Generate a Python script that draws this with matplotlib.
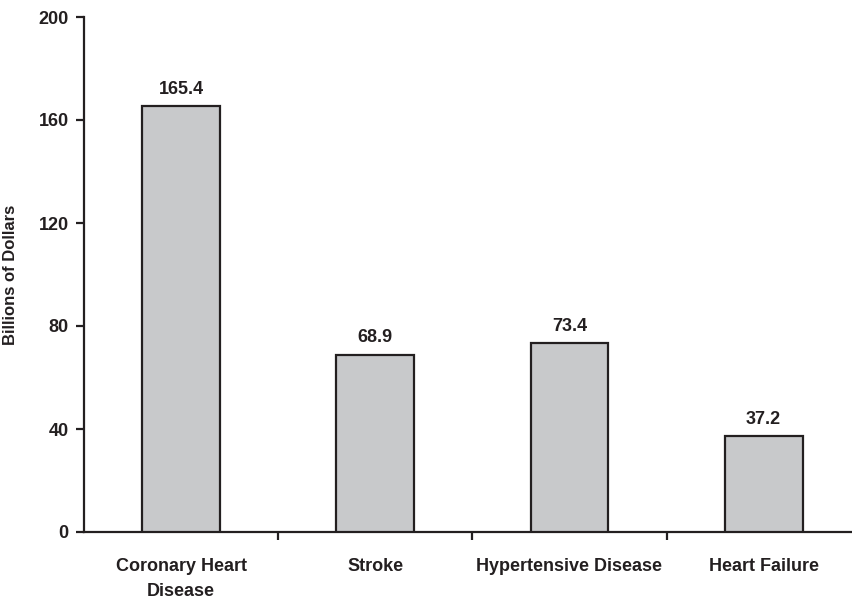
import matplotlib.pyplot as plt
from matplotlib import font_manager

# Cost data, billions of dollars
categories = ["Coronary Heart\nDisease", "Stroke", "Hypertensive Disease", "Heart Failure"]
costs = [165.4, 68.9, 73.4, 37.2]
y_ticks = [0, 40, 80, 120, 160, 200]

names = {f.name for f in font_manager.fontManager.ttflist}
family = "Liberation Sans Narrow" if "Liberation Sans Narrow" in names else "Liberation Sans"
plt.rcParams["font.family"] = [family, "DejaVu Sans"]
plt.rcParams["font.weight"] = "bold"

ink = "#231f20"

fig = plt.figure(figsize=(8.53, 6.01), dpi=100)
ax = fig.add_axes([84 / 853, 1 - 532 / 601, 1 - 84 / 853, (532 - 17) / 601])

x = list(range(len(categories)))
ax.bar(x, costs, width=0.40, color="#c8c9cb", edgecolor=ink, linewidth=1.6, zorder=3)

for xi, v in zip(x, costs):
    ax.text(xi, v + 3.2, f"{v}", ha="center", va="bottom", fontsize=13, fontweight="bold", color=ink)

ax.set_xlim(-0.5, 3.46)
ax.set_ylim(0, 200)
ax.set_yticks(y_ticks)
ax.set_yticklabels([str(t) for t in y_ticks], fontsize=13, fontweight="bold", color=ink)

# category names centred under bars, ticks sit on the boundaries
ax.set_xticks(x)
ax.set_xticklabels(categories, fontsize=13, fontweight="bold", color=ink, linespacing=1.55)
ax.set_xticks([0.5, 1.5, 2.5], minor=True)
ax.tick_params(axis="x", which="major", length=0, pad=19)
ax.tick_params(axis="x", which="minor", length=6, width=1.6, color=ink, direction="out")
ax.tick_params(axis="y", length=6, width=1.6, color=ink, direction="out", pad=5)

ax.set_ylabel("Billions of Dollars", fontsize=12, fontweight="bold", color=ink)
ax.yaxis.set_label_coords((18 - 84) / 769, 0.5)

for side in ["top", "right"]:
    ax.spines[side].set_visible(False)
for side in ["left", "bottom"]:
    ax.spines[side].set_linewidth(1.6)
    ax.spines[side].set_color(ink)

fig.savefig("out.png", dpi=100)
